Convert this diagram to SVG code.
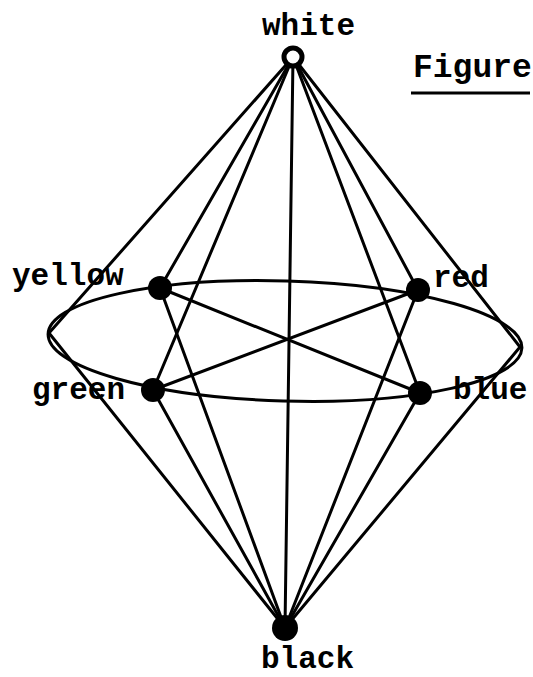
<svg xmlns="http://www.w3.org/2000/svg" width="533" height="677" viewBox="0 0 533 677">
<style>
.e{stroke:#000;stroke-width:3;fill:none;stroke-linecap:round}
.n{fill:#000}
.t{font-family:"Liberation Mono","DejaVu Sans Mono",monospace;font-weight:bold;font-size:31px;fill:#000}
</style>
<rect width="533" height="677" fill="#fff"/>
<g id="connectors">
<ellipse class="e" cx="285" cy="341" rx="237" ry="60" transform="rotate(1.7 285 341)"/>
<line class="e" x1="293" y1="57" x2="49" y2="333"/>
<line class="e" x1="293" y1="57" x2="160" y2="288"/>
<line class="e" x1="293" y1="57" x2="153" y2="390"/>
<line class="e" x1="293" y1="57" x2="285" y2="628"/>
<line class="e" x1="293" y1="57" x2="420" y2="393"/>
<line class="e" x1="293" y1="57" x2="418" y2="290"/>
<line class="e" x1="293" y1="57" x2="520" y2="347"/>
<line class="e" x1="285" y1="628" x2="49" y2="333"/>
<line class="e" x1="285" y1="628" x2="160" y2="288"/>
<line class="e" x1="285" y1="628" x2="153" y2="390"/>
<line class="e" x1="285" y1="628" x2="420" y2="393"/>
<line class="e" x1="285" y1="628" x2="418" y2="290"/>
<line class="e" x1="285" y1="628" x2="520" y2="347"/>
<line class="e" x1="160" y1="288" x2="420" y2="393"/>
<line class="e" x1="153" y1="390" x2="418" y2="290"/>
</g>
<g id="white">
<circle cx="293" cy="57" r="9" fill="#fff" stroke="#000" stroke-width="5"/>
<text class="t" x="262" y="35">white</text>
</g>
<g id="yellow">
<circle class="n" cx="160" cy="288" r="12"/>
<text class="t" x="12" y="285">yellow</text>
</g>
<g id="red">
<circle class="n" cx="418" cy="290" r="12"/>
<text class="t" x="433" y="287">red</text>
</g>
<g id="green">
<circle class="n" cx="153" cy="390" r="12"/>
<text class="t" x="32" y="399">green</text>
</g>
<g id="blue">
<circle class="n" cx="420" cy="393" r="12"/>
<text class="t" x="453" y="399">blue</text>
</g>
<g id="black">
<circle class="n" cx="285" cy="628" r="13"/>
<text class="t" x="261" y="668">black</text>
</g>
<g id="title">
<text class="t" x="413" y="77" style="font-size:33px">Figure</text>
<line x1="411" y1="93" x2="530" y2="93" stroke="#000" stroke-width="3"/>
</g>
</svg>
